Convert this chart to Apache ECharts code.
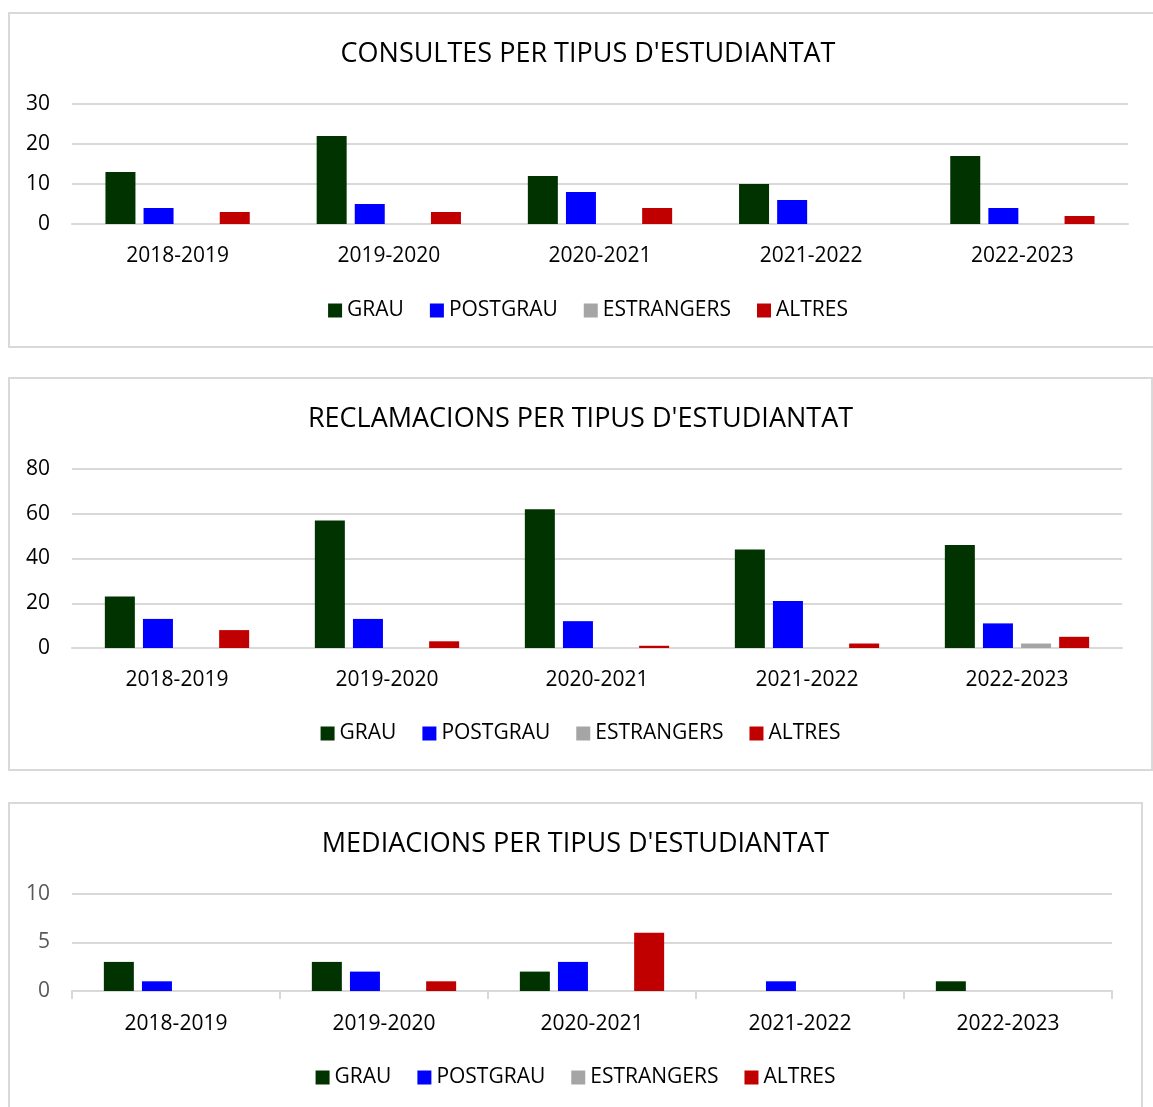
<!DOCTYPE html>
<html>
<head>
<meta charset="utf-8">
<script src="https://cdn.jsdelivr.net/npm/echarts@6/dist/echarts.min.js"></script>
<style>
	body {
		margin: 0;
		background: #ffffff;
		width: 1153px;
		height: 1107px;
		overflow: hidden;
		position: relative;
	}

	.panel {
		position: absolute;
		left: 8px;
		box-sizing: border-box;
		border: 2px solid #d9d9d9;
		background: #ffffff;
	}

	#consultes {
		top: 12px;
		width: 1160px;
		height: 336px;
	}

	#reclamacions {
		top: 377px;
		width: 1145px;
		height: 394px;
	}

	#mediacions {
		top: 802px;
		width: 1135px;
		height: 320px;
	}
</style>
</head>
<body>
<div class="panel" id="consultes"></div>
<div class="panel" id="reclamacions"></div>
<div class="panel" id="mediacions"></div>
<script>
	const years = ["2018-2019", "2019-2020", "2020-2021", "2021-2022", "2022-2023"];
	const seriesNames = ["GRAU", "POSTGRAU", "ESTRANGERS", "ALTRES"];
	const seriesColors = ["#003300", "#0000ff", "#a5a5a5", "#c00000"];

	// consultes
	const consultesGrau = [13, 22, 12, 10, 17];
	const consultesPostgrau = [4, 5, 8, 6, 4];
	const consultesEstrangers = [0, 0, 0, 0, 0];
	const consultesAltres = [3, 3, 4, 0, 2];

	// reclamacions
	const reclamacionsGrau = [23, 57, 62, 44, 46];
	const reclamacionsPostgrau = [13, 13, 12, 21, 11];
	const reclamacionsEstrangers = [0, 0, 0, 0, 2];
	const reclamacionsAltres = [8, 3, 1, 2, 5];

	// mediacions
	const mediacionsGrau = [3, 3, 2, 0, 1];
	const mediacionsPostgrau = [1, 2, 3, 1, 0];
	const mediacionsEstrangers = [0, 0, 0, 0, 0];
	const mediacionsAltres = [0, 1, 6, 0, 0];

	const font = "Open Sans";

	function buildOption(title, data, yMax, yInterval, opts) {
		return {
			animation: false,
			title: {
				text: title,
				left: "center",
				top: 22,
				textStyle: {
					fontFamily: font,
					fontSize: 27,
					fontWeight: "normal",
					color: "#000000"
				}
			},
			legend: {
				data: seriesNames,
				left: "center",
				top: opts.legendTop,
				icon: "rect",
				itemWidth: 14,
				itemHeight: 14,
				itemGap: 26,
				textStyle: {
					fontFamily: font,
					fontSize: 21,
					color: "#000000"
				}
			},
			grid: {
				left: 62,
				right: opts.gridRight,
				top: 90,
				bottom: opts.gridBottom
			},
			xAxis: {
				type: "category",
				data: years,
				axisLine: {lineStyle: {color: "#d9d9d9", width: 2}},
				axisTick: {
					show: opts.ticks,
					length: 8,
					lineStyle: {color: "#d9d9d9", width: 2}
				},
				axisLabel: {
					fontFamily: font,
					fontSize: 21,
					color: "#000000",
					margin: opts.labelMargin
				}
			},
			yAxis: {
				type: "value",
				min: 0,
				max: yMax,
				interval: yInterval,
				axisLine: {show: false},
				axisTick: {show: false},
				splitLine: {lineStyle: {color: "#d9d9d9", width: 2}},
				axisLabel: {
					fontFamily: font,
					fontSize: 21,
					color: opts.yColor,
					margin: 22
				}
			},
			series: data.map((values, i) => ({
				name: seriesNames[i],
				type: "bar",
				data: values,
				barWidth: 30,
				barGap: "27%",
				itemStyle: {color: seriesColors[i]}
			}))
		};
	}

	const consultesChart = echarts.init(document.getElementById("consultes"));
	consultesChart.setOption(buildOption(
		"CONSULTES PER TIPUS D'ESTUDIANTAT",
		[consultesGrau, consultesPostgrau, consultesEstrangers, consultesAltres],
		30, 10,
		{gridRight: 38, gridBottom: 122, legendTop: 281, labelMargin: 22, ticks: false, yColor: "#000000"}
	));

	const reclamacionsChart = echarts.init(document.getElementById("reclamacions"));
	reclamacionsChart.setOption(buildOption(
		"RECLAMACIONS PER TIPUS D'ESTUDIANTAT",
		[reclamacionsGrau, reclamacionsPostgrau, reclamacionsEstrangers, reclamacionsAltres],
		80, 20,
		{gridRight: 29, gridBottom: 121, legendTop: 339, labelMargin: 22, ticks: false, yColor: "#000000"}
	));

	const mediacionsChart = echarts.init(document.getElementById("mediacions"));
	mediacionsChart.setOption(buildOption(
		"MEDIACIONS PER TIPUS D'ESTUDIANTAT",
		[mediacionsGrau, mediacionsPostgrau, mediacionsEstrangers, mediacionsAltres],
		10, 5,
		{gridRight: 29, gridBottom: 129, legendTop: 258, labelMargin: 23, ticks: true, yColor: "#595959"}
	));
</script>
</body>
</html>
